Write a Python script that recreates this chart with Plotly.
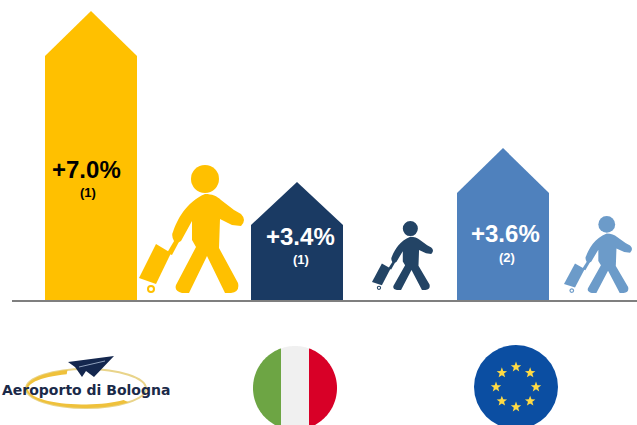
import numpy as np
import plotly.graph_objects as go

# ---- data ----
labels = ["+7.0%", "+3.4%", "+3.6%"]
notes = ["(1)", "(1)", "(2)"]
arrow_tops = [290, 119, 153]      # drawn arrow heights above the baseline
shoulders = [245, 76, 108]        # where the arrow head begins
centers = [91, 297, 503]
bar_colors = ["#FFC000", "#1A3A63", "#4F81BD"]
text_colors = ["#000000", "#FFFFFF", "#FFFFFF"]
label_pos = [(86, 132), (300, 65), (505, 68)]
note_pos = [(88, 109), (301, 42), (507, 44)]
bar_width = 92

# walker silhouette outline in its own drawing units
walker_box = (139, 165, 244, 293)
walker_body = [("M",205,194),("C",212,194,217,196,221,200),("L",234,210),("L",241,214),("Q",247,220,241,226),
               ("L",232,225),("L",220,219),("L",219,248),("L",238,283),("Q",240,292,231,293),
               ("L",225,293),("L",207,256),("L",189,293),("L",182,293),("Q",174,291,176,285),
               ("L",196,247),("L",192,240),("L",192,221),("L",181,241),("Q",176,244,174,241),
               ("Q",171,235,173,232),("C",177,220,186,202,205,194)]
walker_handle = [("M",167,253),("L",172,255),("L",181,238),("L",177,236)]
walker_case = [("M",156,244),("L",171,253),("L",156,284),("L",139,278)]
walker_head = (205, 179, 14)
walker_wheel = (151, 289, 3)
walkers = [((139,165,244,293), "#FFC000"),
           ((372,221,433,290), "#234465"),
           ((564,216,632,293), "#6C9BC9")]

fig = go.Figure()

fig.add_trace(go.Bar(x=centers, y=shoulders, width=bar_width, marker=dict(color=bar_colors, line_width=0),
                     hoverinfo="skip", showlegend=False))
for c, top, sh, col in zip(centers, arrow_tops, shoulders, bar_colors):
    fig.add_trace(go.Scatter(x=[c-bar_width/2, c, c+bar_width/2, c-bar_width/2], y=[sh, top, sh, sh],
                             mode="lines", fill="toself", fillcolor=col, line=dict(width=0),
                             hoverinfo="skip", showlegend=False))

shapes = []
def Y(py): return 301 - py

def walker_path(cmds, box):
    x0, y0, x1, y1 = walker_box
    bx0, by0, bx1, by1 = box
    sx, sy = (bx1-bx0)/(x1-x0), (by1-by0)/(y1-y0)
    out = ""
    for cmd in cmds:
        out += cmd[0]
        vals = cmd[1:]
        pts = []
        for i in range(0, len(vals), 2):
            pts.append(f"{bx0+(vals[i]-x0)*sx:.2f},{Y(by0+(vals[i+1]-y0)*sy):.2f}")
        out += " ".join(pts) + " "
    return out + "Z"

for box, col in walkers:
    x0, y0, x1, y1 = walker_box
    bx0, by0, bx1, by1 = box
    sx, sy = (bx1-bx0)/(x1-x0), (by1-by0)/(y1-y0)
    for part in (walker_body, walker_handle, walker_case):
        shapes.append(dict(type="path", path=walker_path(part, box), fillcolor=col, line=dict(width=0)))
    hx, hy, hr = bx0+(walker_head[0]-x0)*sx, by0+(walker_head[1]-y0)*sy, walker_head[2]*sy
    shapes.append(dict(type="circle", x0=hx-hr, x1=hx+hr, y0=Y(hy+hr), y1=Y(hy-hr), fillcolor=col, line=dict(width=0)))
    wx, wy, wr = bx0+(walker_wheel[0]-x0)*sx, by0+(walker_wheel[1]-y0)*sy, walker_wheel[2]*sy
    shapes.append(dict(type="circle", x0=wx-wr, x1=wx+wr, y0=Y(wy+wr), y1=Y(wy-wr),
                       fillcolor="#FFFFFF", line=dict(width=max(1, 2*sy), color=col)))

# baseline
shapes.append(dict(type="line", x0=12, x1=637, y0=0, y1=0, line=dict(color="#7F7F7F", width=2)))

def disc_piece(cx, cy, r, xa, xb, col):
    a = np.arccos(np.clip((xa-cx)/r, -1, 1)); b = np.arccos(np.clip((xb-cx)/r, -1, 1))
    t = np.linspace(a, b, 40)
    top = [(cx+r*np.cos(v), cy+r*np.sin(v)) for v in t]
    bot = [(cx+r*np.cos(v), cy-r*np.sin(v)) for v in t[::-1]]
    pts = top + bot
    return dict(type="path", path="M"+" L".join(f"{x:.2f},{y:.2f}" for x, y in pts)+" Z",
                fillcolor=col, line=dict(width=0))

# Italian flag badge
fx, fy, fr = 295, Y(388), 42
shapes += [disc_piece(fx, fy, fr, 253, 281, "#6DA544"),
           disc_piece(fx, fy, fr, 281, 309, "#F0F0F0"),
           disc_piece(fx, fy, fr, 309, 337, "#D80027")]

# EU badge
ex, ey, er = 516, Y(387), 42
shapes.append(dict(type="circle", x0=ex-er, x1=ex+er, y0=ey-er, y1=ey+er, fillcolor="#0B4EA2", line=dict(width=0)))
for k in range(8):
    a = np.pi/2 - k*np.pi/4
    sx_, sy_ = ex+20*np.cos(a), ey+20*np.sin(a)
    pts = []
    for j in range(10):
        rr = 5.5 if j % 2 == 0 else 2.3
        t = np.pi/2 + j*np.pi/5
        pts.append(f"{sx_+rr*np.cos(t):.2f},{sy_+rr*np.sin(t):.2f}")
    shapes.append(dict(type="path", path="M"+" L".join(pts)+" Z", fillcolor="#FFDA44", line=dict(width=0)))

# airport logo: ring and paper plane
shapes.append(dict(type="circle", x0=26, x1=146, y0=Y(408), y1=Y(369), fillcolor="rgba(0,0,0,0)",
                   line=dict(color="#E9D48A", width=2)))
t = np.linspace(np.pi*0.6, np.pi*1.75, 40)
arc = [(86+60*np.cos(v), Y(388.5)+19.5*np.sin(v)) for v in t] + [(84+56*np.cos(v), Y(389)+15.5*np.sin(v)) for v in t[::-1]]
shapes.append(dict(type="path", path="M"+" L".join(f"{x:.2f},{y:.2f}" for x, y in arc)+" Z",
                   fillcolor="#EFC13B", line=dict(width=0)))
plane = [(68,362),(114,356),(94,377),(86,371),(82,377),(75,367)]
shapes.append(dict(type="path", path="M"+" L".join(f"{x},{Y(y)}" for x, y in plane)+" Z",
                   fillcolor="#14274E", line=dict(width=0)))
shapes.append(dict(type="line", x0=79, y0=Y(367), x1=105, y1=Y(361), line=dict(color="#8FA0BC", width=1)))

ann = []
for (lx, ly), (nx, ny), lab, note, tc in zip(label_pos, note_pos, labels, notes, text_colors):
    ann.append(dict(x=lx, y=ly, text=f"<b>{lab}</b>", showarrow=False,
                    font=dict(family="Liberation Sans", size=24, color=tc)))
    ann.append(dict(x=nx, y=ny, text=f"<b>{note}</b>", showarrow=False,
                    font=dict(family="Liberation Sans", size=13, color=tc)))
ann.append(dict(x=86, y=Y(389.5), text="<b>Aeroporto di Bologna</b>", showarrow=False,
                font=dict(family="DejaVu Sans", size=14, color="#1B2A49")))

fig.update_layout(width=637, height=425, margin=dict(l=0, r=0, t=0, b=0),
                  paper_bgcolor="white", plot_bgcolor="white", showlegend=False,
                  xaxis=dict(range=[0, 637], visible=False, fixedrange=True),
                  yaxis=dict(range=[-124, 301], visible=False, fixedrange=True),
                  shapes=shapes, annotations=ann)
fig.write_html("out.html", config={"displayModeBar": False},
               post_script="document.body.style.margin='0';document.body.style.overflow='hidden';")
